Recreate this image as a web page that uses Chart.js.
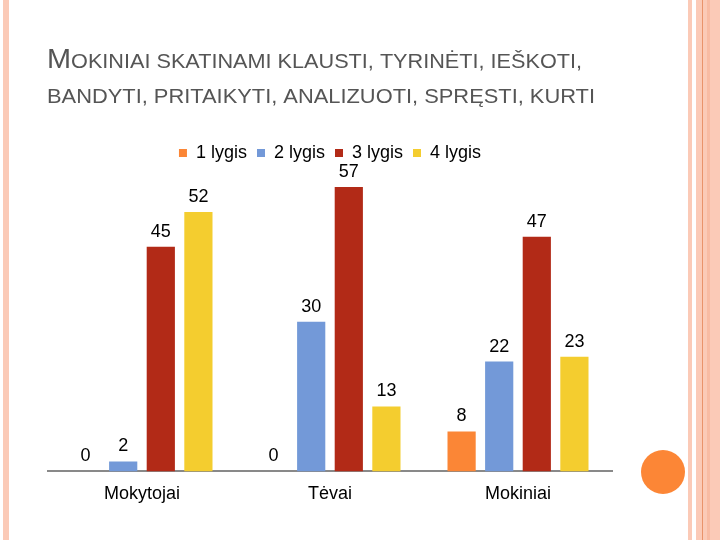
<!DOCTYPE html>
<html>
<head>
<meta charset="utf-8">
<script src="https://cdn.jsdelivr.net/npm/chart.js@4"></script>
<style>
  html, body { margin: 0; padding: 0; background: #fff; }
  #wrap { width: 720px; height: 540px; }
</style>
</head>
<body>
<div id="wrap"><canvas id="chart" width="720" height="540"></canvas></div>
<script>
var categories = ['Mokytojai', 'Tėvai', 'Mokiniai'];
var seriesNames = ['1 lygis', '2 lygis', '3 lygis', '4 lygis'];
var lygis1 = [0, 0, 8];
var lygis2 = [2, 30, 22];
var lygis3 = [45, 57, 47];
var lygis4 = [52, 13, 23];
var titleLines = ['MOKINIAI SKATINAMI KLAUSTI, TYRINĖTI, IEŠKOTI,', 'BANDYTI, PRITAIKYTI, ANALIZUOTI, SPRĘSTI, KURTI'];

var colors = ['#FB8636', '#7399D8', '#B22A17', '#F4CD2F'];
var font = 'Liberation Sans, Arial, sans-serif';

// slide background, side stripes and title
var slidePlugin = {
    id: 'slide',
    beforeDraw: function(chart) {
        var ctx = chart.ctx;
        ctx.save();
        ctx.fillStyle = '#fff';
        ctx.fillRect(0, 0, 720, 540);
        ctx.fillStyle = '#FBCAB7';
        ctx.fillRect(3, 0, 6, 540);
        ctx.fillRect(688, 0, 4, 540);
        ctx.fillRect(696, 0, 24, 540);
        ctx.fillStyle = '#F8BBA3';
        ctx.fillRect(707, 0, 3, 540);
        ctx.fillStyle = '#E9936B';
        ctx.fillRect(702, 0, 1, 540);
        ctx.fillStyle = '#FC8636';
        ctx.beginPath();
        ctx.arc(663, 472, 22, 0, Math.PI * 2);
        ctx.fill();

        // title in small caps
        ctx.fillStyle = '#555';
        ctx.textBaseline = 'alphabetic';
        var big = '28px ' + font, small = '21px ' + font;
        var first = titleLines[0].charAt(0), rest = titleLines[0].slice(1);
        ctx.font = big;
        var w1 = ctx.measureText(first).width;
        ctx.font = small;
        var w2 = ctx.measureText(rest).width;
        var s = 535 / (w1 + w2);
        ctx.save();
        ctx.translate(47, 68);
        ctx.scale(s, 1);
        ctx.font = big;
        ctx.fillText(first, 0, 0);
        ctx.font = small;
        ctx.fillText(rest, w1, 0);
        ctx.restore();
        var w3 = ctx.measureText(titleLines[1]).width;
        ctx.save();
        ctx.translate(47, 103);
        ctx.scale(548 / w3, 1);
        ctx.fillText(titleLines[1], 0, 0);
        ctx.restore();
        ctx.restore();
    }
};

// value labels above bars
var valuePlugin = {
    id: 'values',
    afterDatasetsDraw: function(chart) {
        var ctx = chart.ctx;
        ctx.save();
        ctx.fillStyle = '#000';
        ctx.font = '18px ' + font;
        ctx.textAlign = 'center';
        ctx.textBaseline = 'middle';
        chart.data.datasets.forEach(function(ds, i) {
            chart.getDatasetMeta(i).data.forEach(function(bar, j) {
                ctx.fillText(String(ds.data[j]), bar.x, bar.y - 15);
            });
        });
        ctx.restore();
    }
};

var seriesData = [lygis1, lygis2, lygis3, lygis4];

new Chart(document.getElementById('chart').getContext('2d'), {
    type: 'bar',
    data: {
        labels: categories,
        datasets: seriesData.map(function(d, i) {
            return {
                label: seriesNames[i],
                data: d,
                backgroundColor: colors[i],
                borderWidth: 0,
                categoryPercentage: 0.8,
                barPercentage: 0.75
            };
        })
    },
    options: {
        responsive: false,
        animation: false,
        layout: { padding: { left: 48, right: 108, top: 134, bottom: 31 } },
        plugins: {
            legend: {
                position: 'top',
                labels: {
                    color: '#000',
                    font: { family: font, size: 18 },
                    boxWidth: 8,
                    boxHeight: 8,
                    padding: 10
                }
            },
            tooltip: { enabled: false }
        },
        scales: {
            x: {
                grid: { display: false },
                border: { display: true, color: '#898989', width: 2 },
                ticks: { color: '#000', font: { family: font, size: 18 }, padding: 4 }
            },
            y: {
                display: false,
                min: 0,
                max: 60
            }
        }
    },
    plugins: [slidePlugin, valuePlugin]
});
</script>
</body>
</html>
